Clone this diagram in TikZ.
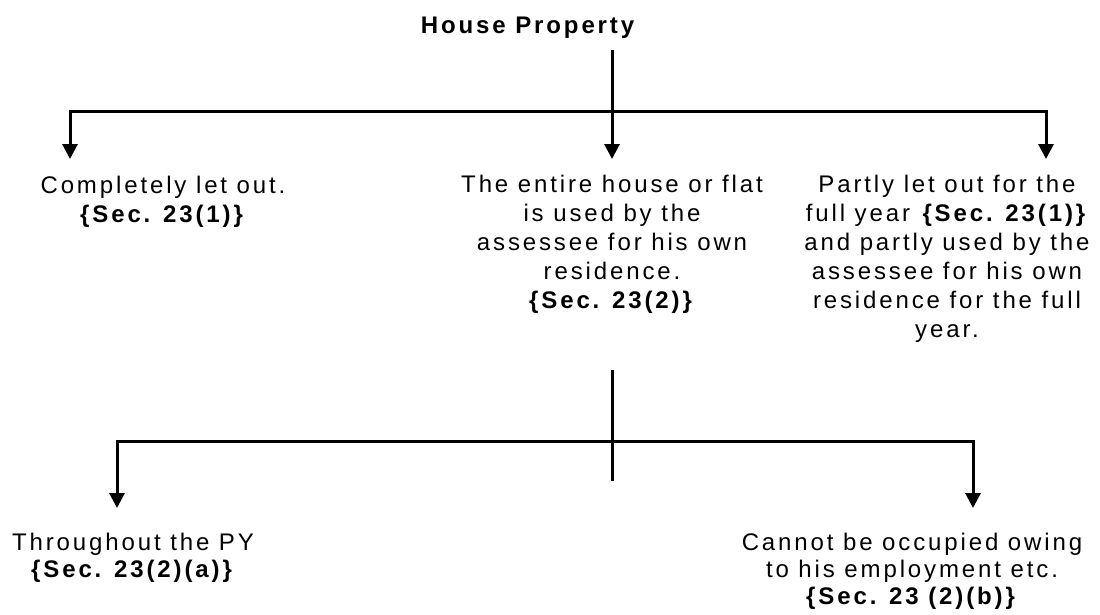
\documentclass[tikz,border=0pt]{standalone}
\usepackage{fontspec}
\setmainfont{Liberation Sans}[LetterSpace=12]
\usetikzlibrary{arrows.meta, positioning}

\begin{document}
\begin{tikzpicture}[x=1pt, y=-1pt, >={Triangle[width=15pt,length=15pt]}, line width=3pt,
    txt/.style={align=center, inner sep=0pt, anchor=base, font=\fontsize{24}{29}\selectfont}]
    \useasboundingbox (0,0) rectangle (1100,614);

    % 1. Title and top branch
    \node[txt] (title) at (529,33) {\textbf{House Property}};
    \coordinate (t0) at (612,50);
    \coordinate (tl) at (70,111);
    \coordinate (tr) at (1046,111);
    \coordinate (al) at (70,159);
    \coordinate (am) at (612,159);
    \coordinate (ar) at (1046,159);
    \draw[<->] (al) -- (tl) -- (tr) -- (ar);
    \draw[->] (t0) -- (am);

    % 2. Three kinds of house property (base = last line)
    \node[txt] (let) at (163,222) {Completely let out.\\\textbf{\{Sec. 23(1)\}}};
    \node[txt] (self) at (612,308) {The entire house or flat\\is used by the\\assessee for his own\\residence.\\\textbf{\{Sec. 23(2)\}}};
    \node[txt] (part) at (947,337) {Partly let out for the\\full year \textbf{\{Sec. 23(1)\}}\\and partly used by the\\assessee for his own\\residence for the full\\year.};

    % 3. Second branch
    \coordinate (m0) at (612,370);
    \coordinate (m1) at (612,481);
    \coordinate (bl) at (117,441);
    \coordinate (br) at (973,441);
    \coordinate (cl) at (117,508);
    \coordinate (cr) at (973,508);
    \draw (m0) -- (m1);
    \draw[<->] (cl) -- (bl) -- (br) -- (cr);

    % 4. Self occupied cases
    \node[txt, font=\fontsize{24}{27}\selectfont] (thru) at (133,577) {Throughout the PY\\\textbf{\{Sec. 23(2)(a)\}}};
    \node[txt, font=\fontsize{24}{27}\selectfont] (emp) at (912,604) {Cannot be occupied owing\\to his employment etc.\\\textbf{\{Sec. 23 (2)(b)\}}};
\end{tikzpicture}
\end{document}
